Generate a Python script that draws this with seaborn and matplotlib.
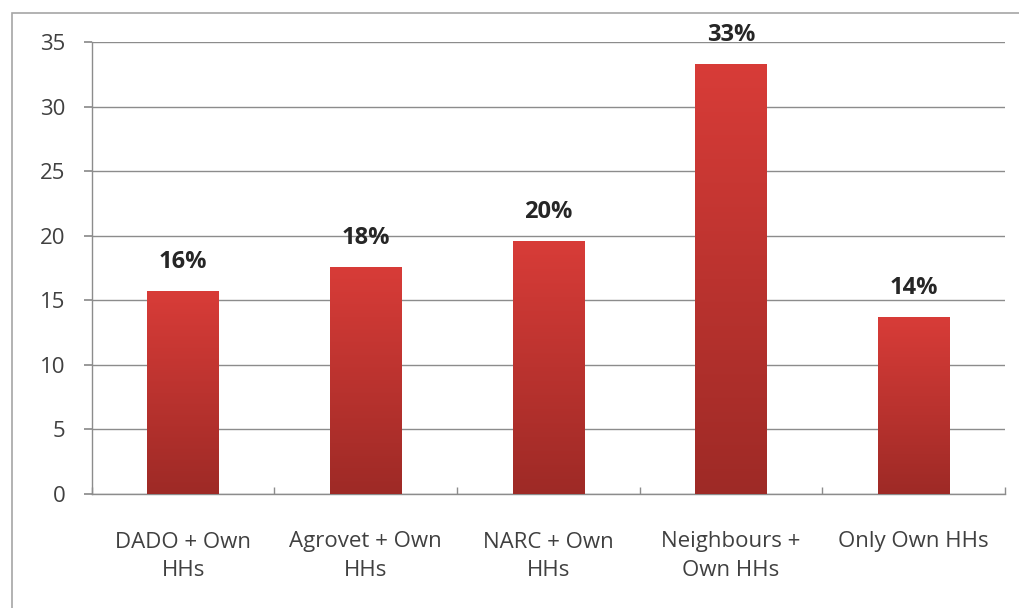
import numpy as np
import pandas as pd
import matplotlib
matplotlib.use("Agg")
import matplotlib.pyplot as plt
from matplotlib.colors import LinearSegmentedColormap
from matplotlib.patches import Rectangle
import seaborn as sns

categories = ["DADO + Own\nHHs", "Agrovet + Own\nHHs", "NARC + Own\nHHs",
              "Neighbours +\nOwn HHs", "Only Own HHs"]
values = [15.7, 17.6, 19.6, 33.3, 13.7]
labels = ["16%", "18%", "20%", "33%", "14%"]

sns.set_theme(style="white")
plt.rcParams['font.family'] = ['Open Sans', 'DejaVu Sans']

df = pd.DataFrame({"cat": categories, "val": values})

fig = plt.figure(figsize=(10.2, 6.08), dpi=100)
ax = fig.add_axes([0.090, 0.1875, 0.895, 0.7435])

sns.barplot(data=df, x="cat", y="val", color="#c0302c", width=0.39,
            saturation=1, ax=ax, zorder=2)

# gradient fill for each bar
cmap = LinearSegmentedColormap.from_list("redgrad", ["#9e2a26", "#d83c38"])
grad = np.linspace(0, 1, 256).reshape(-1, 1)
for bar in ax.patches:
    x0, y0 = bar.get_x(), bar.get_y()
    w, h = bar.get_width(), bar.get_height()
    im = ax.imshow(grad, cmap=cmap, origin="lower", aspect="auto",
                   extent=[x0, x0 + w, y0, y0 + h], zorder=3)
    im.set_clip_path(bar)
    bar.set_edgecolor("none")

for i, (v, lab) in enumerate(zip(values, labels)):
    ax.annotate(lab, (i, v), xytext=(0, 21), textcoords="offset points",
                ha="center", va="center", fontsize=17, fontweight="bold",
                color="#262626")

ax.set_xlim(-0.5, 4.5)
ax.set_ylim(0, 35)
ax.set_yticks(range(0, 36, 5))
ax.yaxis.grid(True, color="#8c8c8c", linewidth=1)
ax.set_axisbelow(True)
ax.set_xlabel("")
ax.set_ylabel("")

for s in ["top", "right"]:
    ax.spines[s].set_visible(False)
for s in ["left", "bottom"]:
    ax.spines[s].set_color("#8c8c8c")
    ax.spines[s].set_linewidth(1)

ax.set_xticks(np.arange(5))
ax.set_xticks(np.arange(-0.5, 5, 1), minor=True)
ax.tick_params(axis="x", which="major", length=0, pad=27, labelsize=16,
               labelcolor="#404040")
for t in ax.get_xticklabels():
    t.set_linespacing(1.45)
ax.tick_params(axis="x", which="minor", bottom=True, length=5,
               color="#8c8c8c", direction="in")
ax.tick_params(axis="y", left=True, length=6, color="#8c8c8c",
               labelsize=16, labelcolor="#404040", pad=13)

# outer chart frame
fig.patches.append(Rectangle((12 / 1020, -0.05), 1.1, 0.05 + (608 - 13) / 608,
                             transform=fig.transFigure, fill=False,
                             edgecolor="#a6a6a6", linewidth=1.2))

fig.savefig("out.png", dpi=100)
